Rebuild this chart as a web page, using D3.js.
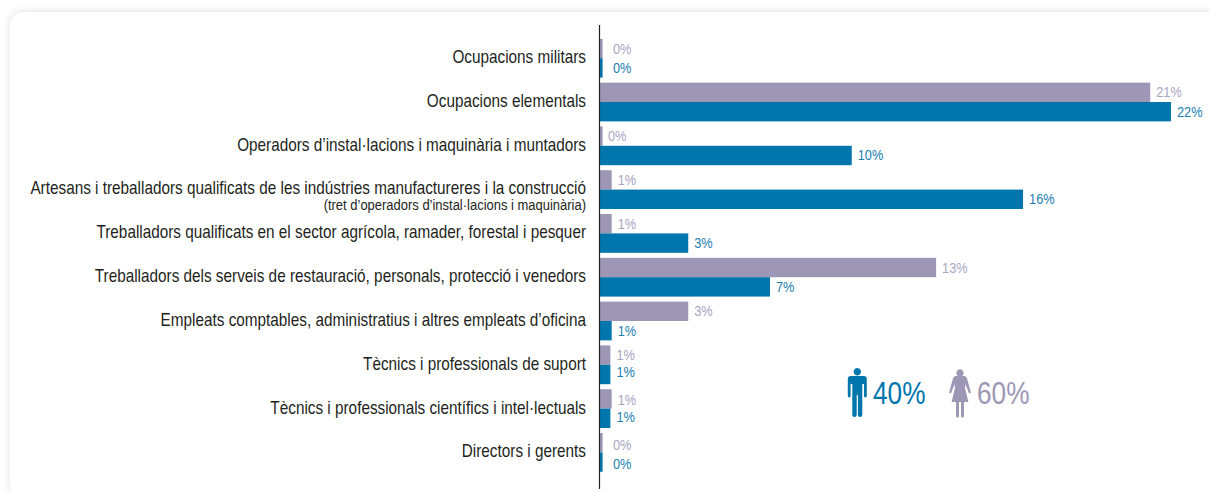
<!DOCTYPE html>
<html>
<head>
<meta charset="utf-8">
<script src="https://cdn.jsdelivr.net/npm/d3@7"></script>
<style>
  html, body { margin: 0; padding: 0; background: #fff; overflow: hidden; }
  svg { display: block; font-family: "Liberation Sans", Arial, sans-serif; }
</style>
</head>
<body>
<script>
// occupations, top to bottom
const categories = [
  'Ocupacions militars',
  'Ocupacions elementals',
  'Operadors d’instal·lacions i maquinària i muntadors',
  'Artesans i treballadors qualificats de les indústries manufactureres i la construcció',
  'Treballadors qualificats en el sector agrícola, ramader, forestal i pesquer',
  'Treballadors dels serveis de restauració, personals, protecció i venedors',
  'Empleats comptables, administratius i altres empleats d’oficina',
  'Tècnics i professionals de suport',
  'Tècnics i professionals científics i intel·lectuals',
  'Directors i gerents'
];
const subLabel = '(tret d’operadors d’instal·lacions i maquinària)';

// bar lengths, labels as printed
const femaleValues = [0.1, 21.2, 0.1, 0.45, 0.45, 12.95, 3.4, 0.4, 0.45, 0.1];
const maleValues = [0.1, 22, 9.7, 16.3, 3.4, 6.55, 0.45, 0.4, 0.4, 0.1];
const femaleLabels = ['0%', '21%', '0%', '1%', '1%', '13%', '3%', '1%', '1%', '0%'];
const maleLabels = ['0%', '22%', '10%', '16%', '3%', '7%', '1%', '1%', '1%', '0%'];

const totals = [
  { label: '40%', color: '#0076ad', icon: 'man' },
  { label: '60%', color: '#9d97b5', icon: 'woman' }
];

const width = 1209;
const height = 492;
const femaleColor = '#9d97b5';
const maleColor = '#0076ad';
const femaleText = '#aaa5c1';
const maleText = '#1b80b2';
const textColor = '#231f20';

const svg = d3.select('body').append('svg')
  .attr('width', width)
  .attr('height', height);

// card behind the chart
const defs = svg.append('defs');
const blur = defs.append('filter').attr('id', 'shadow')
  .attr('x', '-5%').attr('y', '-5%').attr('width', '110%').attr('height', '110%');
blur.append('feGaussianBlur').attr('stdDeviation', 5);

svg.append('rect')
  .attr('x', 10).attr('y', 12)
  .attr('width', 1300).attr('height', 486)
  .attr('rx', 14)
  .attr('fill', '#000').attr('opacity', 0.13)
  .attr('filter', 'url(#shadow)');
svg.append('rect')
  .attr('x', 10).attr('y', 12)
  .attr('width', 1300).attr('height', 486)
  .attr('rx', 14)
  .attr('fill', '#fff');

const x = d3.scaleLinear().domain([0, 22]).range([600, 1171]);
const y = d3.scaleBand().domain(categories).range([36.3, 474.3]);
const inner = d3.scaleBand().domain(['female', 'male']).range([0, y.bandwidth()]).paddingOuter(0.13);

const rows = categories.map((c, i) => ({
  category: c,
  index: i,
  female: femaleValues[i],
  male: maleValues[i],
  femaleLabel: femaleLabels[i],
  maleLabel: maleLabels[i]
}));

const row = svg.selectAll('g.row')
  .data(rows)
  .join('g')
  .attr('class', 'row')
  .attr('transform', d => `translate(0,${y(d.category)})`);

row.append('rect')
  .attr('x', x(0))
  .attr('y', inner('female'))
  .attr('width', d => x(d.female) - x(0))
  .attr('height', inner.bandwidth())
  .attr('fill', femaleColor);

row.append('rect')
  .attr('x', x(0))
  .attr('y', inner('male'))
  .attr('width', d => x(d.male) - x(0))
  .attr('height', inner.bandwidth())
  .attr('fill', maleColor);

// the last rows have their labels a bit off the bar centres in the original
function labelNudge(i, key) {
  if (i === 9) return 2;
  if (i === 8) return key === 'male' ? -1 : 1;
  if (i === 7 && key === 'male') return -2;
  return 0;
}

// small text is squeezed in the original, so scale x by hand
function valueLabel(sel, key, labelKey, color) {
  sel.append('text')
    .attr('transform', d => {
      let lx = x(d[key]) + 6;
      if (d[key] < 0.2) lx = d.index === 2 ? 608 : 613;
      const ly = inner(key) + inner.bandwidth() / 2 + 5 + labelNudge(d.index, key);
      return `translate(${lx},${ly}) scale(0.88,1)`;
    })
    .attr('font-size', 14.5)
    .attr('fill', color)
    .text(d => d[labelKey]);
}
valueLabel(row, 'female', 'femaleLabel', femaleText);
valueLabel(row, 'male', 'maleLabel', maleText);

// category labels
const labels = svg.append('g');
labels.selectAll('text')
  .data(categories)
  .join('text')
  .attr('transform', (d, i) => `translate(586,${y(d) + y.bandwidth() / 2 + (i === 3 ? 4 : 5)}) scale(0.875,1)`)
  .attr('text-anchor', 'end')
  .attr('font-size', 17.5)
  .attr('fill', textColor)
  .text(d => d);

labels.append('text')
  .attr('transform', `translate(586,${y(categories[3]) + y.bandwidth() / 2 + 20}) scale(0.895,1)`)
  .attr('text-anchor', 'end')
  .attr('font-size', 14.5)
  .attr('fill', textColor)
  .text(subLabel);

// axis line
svg.append('line')
  .attr('x1', 599.5).attr('x2', 599.5)
  .attr('y1', 25).attr('y2', 489)
  .attr('stroke', '#222')
  .attr('stroke-width', 1.2);

// man / woman totals
const iconPaths = {
  man: 'M0,-25a3.7,3.7 0 1,1 -0.01,0Z M-6.5,-17 h13 a3,3 0 0,1 3,3 V3 a1.4,1.4 0 0,1 -2.8,0 V-9 H5 V22 a2.2,2 0 0,1 -4.4,0 V2 H-0.6 V22 a2.2,2 0 0,1 -4.4,0 V-9 H-6.7 V3 a1.4,1.4 0 0,1 -2.8,0 V-14 a3,3 0 0,1 3,-3Z',
  woman: 'M0,-23.7a3.7,3.7 0 1,1 -0.01,0Z M-4,-17 h8 a3,3 0 0,1 2.8,1.8 L10.8,-1 a1,1 0 0,1 -2,0.7 L5.3,-9 L5,-5 L8.4,9 H4 V23 a1.5,1.5 0 0,1 -3,0 V9 H-1 V23 a1.5,1.5 0 0,1 -3,0 V9 H-8.4 L-5,-5 L-5.3,-9 L-8.8,-0.3 a1,1 0 0,1 -2,-0.7 L-6.8,-15.2 a3,3 0 0,1 2.8,-1.8Z'
};

const totalX = d3.scaleBand().domain(totals.map(d => d.label)).range([838, 1046]);

const total = svg.selectAll('g.total')
  .data(totals)
  .join('g')
  .attr('class', 'total')
  .attr('transform', d => `translate(${totalX(d.label)},393)`);

total.append('path')
  .attr('transform', d => `translate(${d.icon === 'woman' ? 18 : 19.3},0)`)
  .attr('d', d => iconPaths[d.icon])
  .attr('fill', d => d.color);

total.append('text')
  .attr('transform', 'translate(35,11) scale(0.82,1)')
  .attr('font-size', 32)
  .attr('fill', d => d.color)
  .text(d => d.label);
</script>
</body>
</html>
